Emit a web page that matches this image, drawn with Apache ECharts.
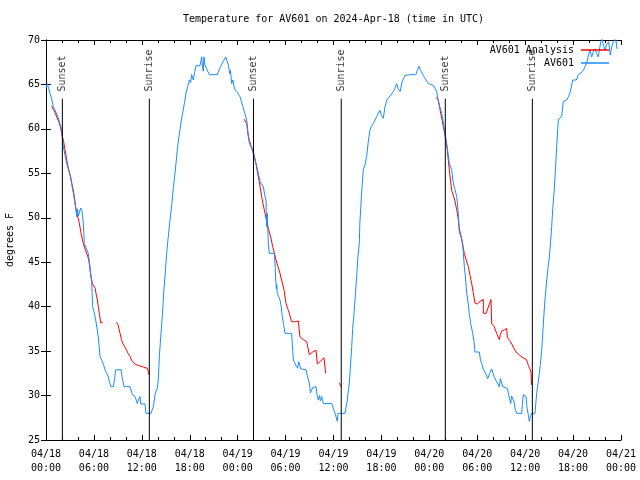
<!DOCTYPE html>
<html><head><meta charset="utf-8">
<script src="https://cdn.jsdelivr.net/npm/echarts@6/dist/echarts.min.js"></script>
<style>html,body{margin:0;padding:0;background:#fff}#c{width:640px;height:480px}</style>
</head><body><div id="c"></div>
<script>
// hours since 2024-04-18 00:00 UTC
const xTickLabels = ['04/18\n00:00','04/18\n06:00','04/18\n12:00','04/18\n18:00','04/19\n00:00','04/19\n06:00','04/19\n12:00','04/19\n18:00','04/20\n00:00','04/20\n06:00','04/20\n12:00','04/20\n18:00','04/21\n00:00'];
const sunsetHours = [2.05, 25.98, 50.0];
const sunriseHours = [12.94, 36.97, 60.9];

const blueDay1 = [[0,64.6],[0.15,65.1],[0.35,64.5],[0.5,64.0],[0.7,63.4],[0.92,62.5],[1.15,62.1],[1.4,61.9],[1.55,61.2],[1.84,60.3],[1.96,59.9],[2.08,58.8],[2.17,58.0],[2.4,57.0],[2.59,56.1],[2.85,55.3],[3.09,54.6],[3.25,53.6],[3.42,52.8],[3.6,51.8],[3.76,50.9],[3.85,50.1],[3.95,51.0],[4.05,50.2],[4.34,51.1],[4.5,50.8],[4.67,49.4],[4.8,47.1],[5.0,47.0],[5.3,46.0],[5.5,44.5],[5.72,42.8],[5.84,40.0],[6.0,39.5],[6.22,38.5],[6.4,37.5],[6.55,36.6],[6.76,34.4],[6.97,34.0],[7.2,33.5],[7.39,32.9],[7.6,32.5],[7.8,32.1],[7.95,31.5],[8.14,31.0],[8.43,31.0],[8.6,32.0],[8.72,32.9],[9.39,32.9],[9.55,32.0],[9.77,31.0],[10.52,31.0],[10.81,30.1],[11.14,29.9],[11.3,29.5],[11.43,29.1],[11.6,29.6],[11.77,29.9],[11.86,29.05],[12.4,29.05],[12.52,28.0],[13.15,28.0],[13.44,28.75],[13.65,30.1],[13.8,30.5],[13.94,30.8],[14.07,31.9],[14.2,34.5],[14.4,37.0],[14.6,39.5],[14.78,42.1],[14.95,44.0],[15.11,46.0],[15.3,47.8],[15.53,49.75],[15.75,51.5],[15.94,53.3],[16.15,55.0],[16.36,56.9],[16.55,58.5],[16.78,59.9],[16.95,61.0],[17.11,61.75],[17.35,63.0],[17.53,64.0],[17.75,64.8],[17.95,65.5],[18.1,65.2],[18.24,66.1],[18.45,65.5],[18.6,66.3],[18.78,67.1],[19.28,67.1],[19.5,68.1],[19.6,67.0],[19.7,66.5],[19.78,68.1],[19.9,67.2],[20.1,66.8],[20.45,66.1],[21.45,66.1],[21.8,66.9],[22.2,67.6],[22.5,68.1],[22.83,67.2],[23.0,66.2],[23.1,66.6],[23.25,65.1],[23.4,65.5],[23.6,64.5],[23.88,64.2]];
const blueDay2 = [[24.3,63.6],[24.5,63.4],[24.79,62.1],[25.13,61.0],[25.3,59.5],[25.46,58.4],[25.76,57.8],[26.05,56.9],[26.38,55.75],[26.6,55.0],[26.8,54.06],[27.21,53.5],[27.42,52.4],[27.55,52.0],[27.63,49.0],[27.7,50.5],[27.84,47.1],[27.96,46.0],[28.59,46.0],[28.7,44.5],[28.76,43.0],[28.85,42.0],[28.9,42.5],[28.96,41.5],[29.3,40.75],[29.45,40.0],[29.59,38.9],[29.75,38.0],[29.93,37.0],[30.76,37.0],[30.97,34.0],[31.2,33.8],[31.35,33.3],[31.51,33.07],[31.65,33.8],[31.8,34.0],[31.9,33.0],[32.0,32.9],[32.56,32.9],[32.7,32.3],[32.85,31.75],[33.0,31.3],[33.1,30.3],[33.27,30.25],[33.4,30.9],[33.6,31.0],[33.81,31.0],[33.95,30.0],[34.1,29.5],[34.25,30.0],[34.35,29.4],[34.52,29.9],[34.72,29.1],[35.77,29.1],[36.0,28.5],[36.19,28.0],[36.35,27.5],[36.48,27.1],[36.55,28.0],[36.69,28.0],[37.44,28.0],[37.6,28.8],[37.73,29.5],[37.85,30.5],[37.98,31.4],[38.1,33.0],[38.28,35.5],[38.4,37.5],[38.57,39.25],[38.75,41.5],[38.9,43.4],[39.05,45.5],[39.23,47.1],[39.3,49.4],[39.5,52.5],[39.73,55.4],[39.95,56.0],[40.15,56.9],[40.35,58.5],[40.57,59.9],[40.75,60.3],[40.98,60.6],[41.2,61.0],[41.41,61.4],[41.6,61.6],[41.82,62.1],[42.0,61.5],[42.24,61.2],[42.45,62.5],[42.66,63.25],[43.1,63.7],[43.49,64.2],[43.7,64.6],[43.91,65.1],[44.1,64.5],[44.33,64.2],[44.6,65.3],[44.95,66.0],[45.58,66.1],[46.33,66.1],[46.5,66.6],[46.7,67.05],[46.9,66.6],[47.25,66.0],[47.46,66.1],[47.87,65.1]];
const blueDay3 = [[48.5,64.9],[48.92,64.2],[49.12,63.1],[49.35,62.4],[49.55,61.75],[49.7,61.0],[49.84,60.25],[50.0,59.3],[50.17,58.4],[50.35,57.2],[50.5,56.1],[50.8,55.4],[51.0,53.9],[51.2,53.2],[51.43,52.4],[51.63,50.5],[51.75,48.25],[51.95,48.0],[52.18,47.1],[52.38,44.5],[52.55,43.0],[52.68,41.5],[52.85,40.5],[53.0,39.25],[53.2,38.0],[53.43,37.0],[53.6,36.0],[53.72,34.9],[54.26,34.9],[54.4,34.0],[54.56,33.6],[54.75,33.0],[54.97,32.9],[55.1,32.4],[55.31,31.9],[55.55,32.5],[55.81,33.0],[55.95,32.6],[56.1,32.1],[56.4,31.6],[56.76,31.0],[56.9,31.9],[56.98,31.9],[57.19,31.0],[57.77,30.8],[57.95,30.0],[58.19,29.1],[58.3,29.95],[58.44,29.95],[58.6,29.3],[58.75,28.5],[58.94,28.0],[59.56,28.0],[59.65,29.0],[59.77,30.1],[59.9,30.1],[60.1,29.9],[60.25,28.5],[60.4,27.8],[60.52,27.1],[60.65,27.6],[60.82,28.0],[61.23,28.0],[61.44,30.25],[61.6,31.3],[61.77,32.5],[61.9,33.5],[62.07,35.1],[62.2,37.0],[62.36,39.25],[62.5,41.0],[62.7,43.0],[62.85,44.3],[63.03,45.6],[63.2,47.5],[63.32,49.0],[63.45,51.0],[63.61,52.75],[63.8,55.5],[63.95,58.0],[64.15,61.0],[64.57,61.4],[64.78,63.1],[65.2,63.25],[65.4,63.6],[65.6,64.0],[65.8,64.8],[65.95,65.5],[66.4,65.5],[66.66,66.1],[67.0,66.3],[67.29,66.6],[67.5,67.0],[67.7,67.4],[67.9,68.2],[68.1,68.9],[68.33,68.1],[68.55,68.7],[68.75,69.0],[68.95,68.5],[69.15,68.1],[69.35,69.2],[69.6,70.3],[69.8,69.4],[70.0,68.9],[70.2,69.5],[70.45,69.8],[70.66,68.3],[70.85,69.3],[71.06,69.8],[71.3,70.4],[71.5,69.0]];

const redDay1a = [[0.71,62.6],[0.9,62.2],[1.1,61.9],[1.34,61.75],[1.6,60.8],[1.84,60.1],[2.0,59.3],[2.17,58.75],[2.4,57.6],[2.59,56.5],[2.75,55.8],[2.92,55.2],[3.2,54.0],[3.42,53.1],[3.6,52.0],[3.76,50.9],[3.95,50.2],[4.17,49.4],[4.4,48.2],[4.67,47.1],[4.85,46.6],[5.09,46.5],[5.25,45.6],[5.42,44.9],[5.59,43.6],[5.8,42.6],[6.14,42.1],[6.3,41.3],[6.43,40.75],[6.55,40.0],[6.68,39.25],[6.84,38.2],[7.09,38.2]];
const redDay1b = [[8.85,38.25],[9.0,38.0],[9.06,37.9],[9.27,37.0],[9.45,36.3],[9.6,35.9],[9.85,35.5],[10.1,35.1],[10.3,34.7],[10.52,34.4],[10.7,34.0],[10.93,33.8],[11.2,33.5],[11.56,33.4],[11.9,33.3],[12.19,33.2],[12.69,33.06],[12.8,33.0],[12.94,32.3]];
const redDay2a = [[24.8,61.1],[25.13,60.6],[25.34,59.1],[25.63,58.2],[25.96,57.4],[26.15,56.7],[26.3,56.1],[26.5,55.0],[26.71,54.06],[27.0,52.4],[27.2,51.5],[27.42,50.5],[27.84,48.8],[28.05,48.6],[28.2,47.6],[28.38,46.75],[28.6,46.0],[28.8,45.25],[29.05,44.5],[29.3,43.75],[29.55,42.8],[29.8,41.9],[30.05,40.4],[30.25,39.8],[30.47,39.25],[30.76,38.3],[31.2,38.3],[31.59,38.4],[31.8,36.6],[32.2,36.3],[32.64,36.06],[32.97,34.6],[33.4,34.9],[33.81,35.1],[33.98,33.55],[34.4,33.9],[34.81,34.26],[35.02,32.5]];
const redDay2b = [[36.73,31.4],[36.85,31.2],[36.94,31.0]];
const redDay3 = [[48.84,63.55],[49.0,63.55],[49.13,63.25],[49.42,61.75],[49.6,61.0],[49.75,60.25],[49.96,59.3],[50.25,57.6],[50.5,55.4],[50.65,54.2],[50.8,53.1],[51.0,52.9],[51.2,51.9],[51.43,50.9],[51.6,50.0],[51.75,48.8],[51.9,48.2],[52.05,47.5],[52.38,46.0],[52.6,45.3],[52.88,44.5],[53.1,43.5],[53.3,42.6],[53.5,41.6],[53.72,40.4],[54.0,40.3],[54.35,40.6],[54.76,40.8],[54.77,39.25],[55.1,39.25],[55.72,40.8],[55.81,38.05],[56.1,37.8],[56.43,37.0],[56.76,36.3],[56.9,36.9],[57.06,37.25],[57.4,37.4],[57.69,37.55],[57.77,36.55],[58.05,36.2],[58.32,35.8],[58.6,35.3],[58.86,34.9],[59.1,34.7],[59.35,34.5],[59.77,34.2],[60.1,34.1],[60.25,33.8],[60.4,33.4],[60.6,33.0],[60.73,32.6],[60.8,31.2]];

const FONT = 'DejaVu Sans Mono';
const BLUE = '#1a8cff';
const gap = [[null, null]];
const redData = [].concat(redDay1a, gap, redDay1b, gap, redDay2a, gap, redDay2b, gap, redDay3);
const blueData = [].concat(blueDay1, blueDay2, blueDay3);

const LINE_TOP = 63.4, LABEL_Y = 64.2;
const sunEvents = [];
sunsetHours.forEach(h => sunEvents.push({h, name: 'Sunset'}));
sunriseHours.forEach(h => sunEvents.push({h, name: 'Sunrise'}));

const sunLineSeries = sunEvents.map(e => ({
  type: 'line', silent: true, symbol: 'none', z: 5, animation: false,
  data: [[e.h, 25], [e.h, LINE_TOP]],
  lineStyle: {color: '#000', width: 1}
}));

const axisCommonX = {
  type: 'value', min: 0, max: 72, interval: 6,
  axisLine: {lineStyle: {color: '#000', width: 1}},
  axisTick: {inside: true, length: 5, lineStyle: {color: '#000'}},
  minorTick: {show: true, splitNumber: 3, length: 3, lineStyle: {color: '#000'}},
  splitLine: {show: false}
};
const axisCommonY = {
  type: 'value', min: 25, max: 70, interval: 5,
  axisLine: {show: true, lineStyle: {color: '#000', width: 1}},
  axisTick: {show: true, inside: true, length: 5, lineStyle: {color: '#000'}},
  splitLine: {show: false}
};

const chart = echarts.init(document.getElementById('c'), null, {renderer: 'canvas'});
chart.setOption({
  animation: false,
  backgroundColor: '#fff',
  textStyle: {fontFamily: FONT},
  title: {
    text: 'Temperature for AV601 on 2024-Apr-18 (time in UTC)',
    left: 183, top: 14, padding: 0,
    textStyle: {fontFamily: FONT, fontSize: 10, fontWeight: 'normal', color: '#000'}
  },
  legend: {
    data: ['AV601 Analysis', 'AV601'],
    orient: 'vertical', right: 31, top: 45, align: 'right', padding: 0,
    icon: 'rect', itemWidth: 28, itemHeight: 1.5, itemGap: 3,
    textStyle: {fontFamily: FONT, fontSize: 10, color: '#000', padding: [0, 2, 0, 0]}
  },
  grid: {left: 46, right: 19, top: 40, bottom: 40, containLabel: false, outerBoundsMode: 'none'},
  xAxis: [
    Object.assign({}, axisCommonX, {
      position: 'bottom',
      axisLabel: {
        fontFamily: FONT, fontSize: 10, color: '#000', margin: 7, lineHeight: 14,
        formatter: v => xTickLabels[Math.round(v / 6)]
      }
    }),
    Object.assign({}, axisCommonX, {position: 'top', axisLabel: {show: false}})
  ],
  yAxis: [
    Object.assign({}, axisCommonY, {
      position: 'left',
      name: 'degrees F', nameLocation: 'middle', nameRotate: 90, nameGap: 31,
      nameTextStyle: {fontFamily: FONT, fontSize: 10, color: '#000'},
      axisLabel: {fontFamily: FONT, fontSize: 10, color: '#000', margin: 6}
    }),
    Object.assign({}, axisCommonY, {position: 'right', axisLabel: {show: false}})
  ],
  series: [
    {
      name: 'AV601 Analysis', type: 'line', data: redData, symbol: 'none',
      connectNulls: false, color: '#ff0000',
      lineStyle: {color: '#ff0000', width: 1}, z: 2
    },
    {
      name: 'AV601', type: 'line', data: blueData, symbol: 'none',
      color: BLUE,
      lineStyle: {color: BLUE, width: 1}, z: 3
    }
  ].concat(sunLineSeries, [{
    type: 'scatter', silent: true, symbolSize: 1, z: 6,
    itemStyle: {color: 'rgba(0,0,0,0)'},
    data: sunEvents.map(e => ({name: e.name, value: [e.h, LABEL_Y]})),
    label: {
      show: true, position: 'inside', formatter: '{b}', rotate: 90,
      align: 'left', verticalAlign: 'middle', offset: [0.5, 0],
      fontFamily: FONT, fontSize: 10, color: '#000'
    },
    labelLayout: {hideOverlap: false}
  }])
});
</script>
</body></html>
